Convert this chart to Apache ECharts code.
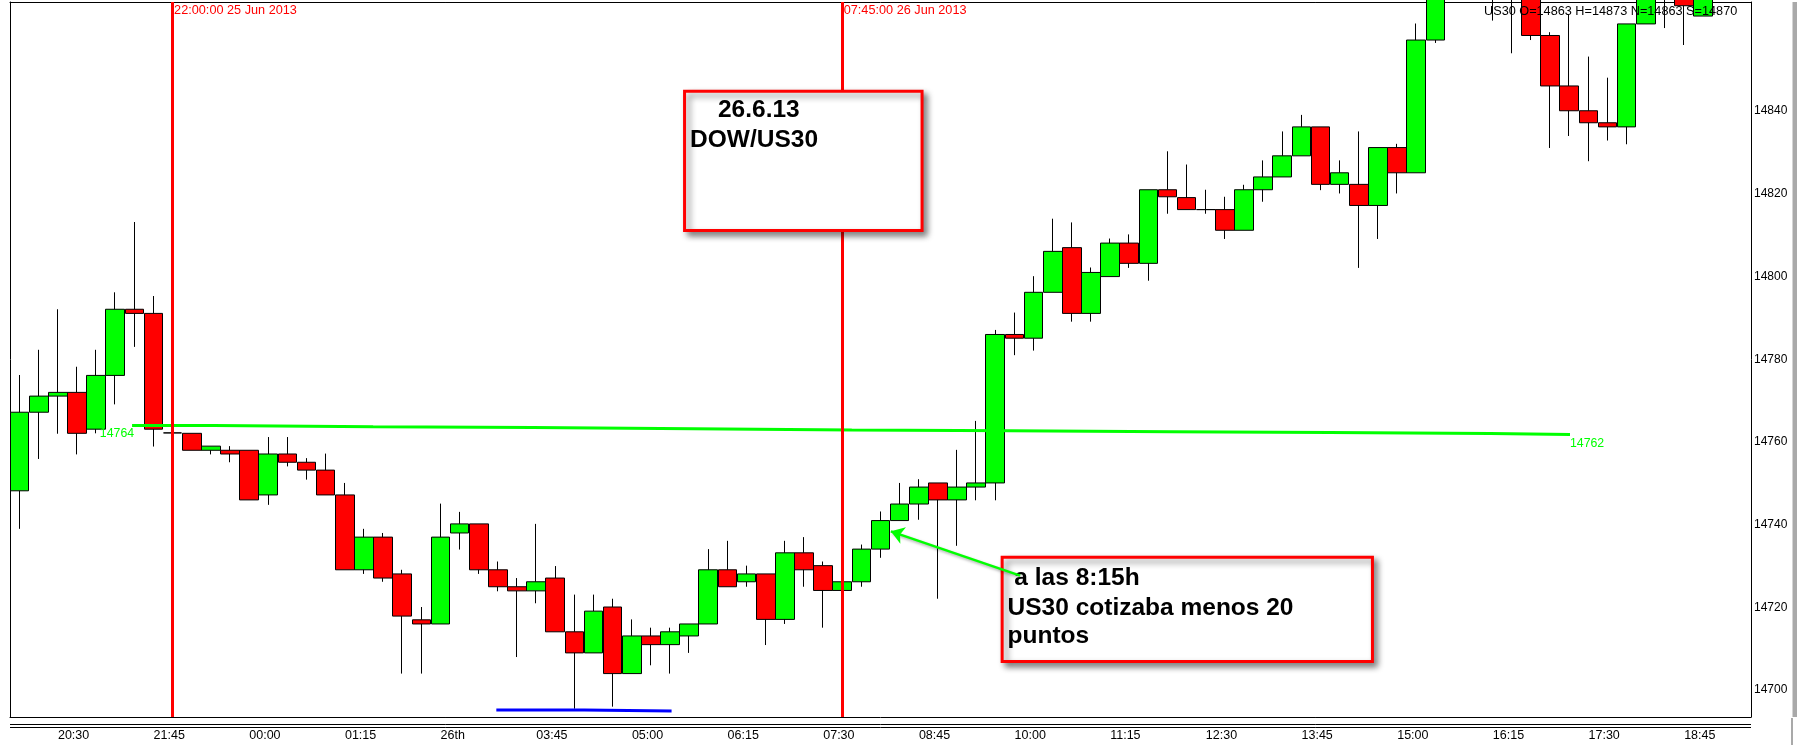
<!DOCTYPE html>
<html>
<head>
<meta charset="utf-8">
<script src="https://cdn.jsdelivr.net/npm/echarts@6/dist/echarts.min.js"></script>
<style>
html,body{margin:0;padding:0;background:#fff;}
#c{width:1797px;height:745px;}
</style>
</head>
<body>
<div id="c"></div>
<script>
// ---------------- DATA ----------------
const xTickLabels = ['20:30','21:45','00:00','01:15','26th','03:45','05:00','06:15','07:30','08:45','10:00','11:15','12:30','13:45','15:00','16:15','17:30','18:45'];
const firstTickSlot = 3;
const tickEvery = 5;
const slotCount = 91;
const yTickValues = [14700,14720,14740,14760,14780,14800,14820,14840];
const yMin = 14693.5;
const yMax = 14866.4;

// 15-minute candles (index 0..88)
const opens = [
 14748.2,14767.2,14771.1,14772.0,14763.1,14776.1,14792.1,14791.1,14762.2,14762.1,
 14758.0,14758.0,14758.0,14747.2,14757.1,14755.1,14753.2,14747.2,14729.1,14737.0,
 14728.1,14717.0,14716.0,14738.0,14740.2,14729.1,14725.0,14724.0,14727.1,14714.1,
 14709.0,14720.1,14704.0,14713.1,14711.0,14713.1,14716.0,14729.1,14726.2,14728.1,
 14717.1,14733.2,14730.1,14724.1,14726.2,14734.1,14741.0,14745.0,14750.1,14746.0,
 14749.1,14750.1,14786.0,14785.1,14796.2,14807.0,14791.1,14800.0,14808.1,14803.2,
 14821.0,14819.1,14816.2,14816.2,14811.2,14821.0,14824.1,14829.2,14836.2,14822.3,
 14822.3,14817.2,14831.2,14825.1,14857.2,14874.0,14880.0,14876.0,14872.0,14869.0,
 14858.3,14846.1,14840.1,14837.2,14836.2,14861.1,14868.0,14872.0,14863.0];
const closes = [
 14767.2,14771.1,14772.0,14762.1,14776.1,14792.1,14791.1,14763.1,14762.2,14758.0,
 14759.0,14757.1,14746.0,14757.1,14755.1,14753.2,14747.2,14729.1,14737.0,14727.1,
 14717.9,14716.0,14737.0,14740.2,14729.1,14725.0,14724.0,14726.2,14714.1,14709.0,
 14719.1,14704.0,14713.1,14711.0,14714.1,14716.0,14729.1,14725.0,14728.1,14717.1,
 14733.2,14729.1,14724.1,14726.2,14734.1,14741.0,14745.0,14749.1,14746.0,14749.1,
 14750.1,14786.0,14785.1,14796.2,14806.1,14791.1,14801.0,14808.1,14803.2,14821.0,
 14819.3,14816.2,14816.2,14811.2,14821.0,14824.1,14829.2,14836.2,14822.3,14825.1,
 14817.2,14831.2,14825.1,14857.2,14874.0,14880.0,14876.0,14872.0,14869.0,14858.3,
 14846.1,14840.1,14837.2,14836.2,14861.1,14868.0,14872.0,14865.5,14870.0];
const lows = [
 14739.0,14755.9,14762.0,14757.0,14762.1,14769.1,14783.0,14758.9,14761.8,14758.0,
 14757.0,14755.1,14746.0,14744.8,14754.1,14750.9,14747.2,14729.1,14728.1,14726.2,
 14704.0,14704.0,14716.0,14734.0,14728.1,14723.9,14708.0,14721.0,14714.1,14695.5,
 14709.0,14696.0,14704.0,14706.0,14704.0,14709.0,14716.0,14725.0,14725.0,14710.9,
 14716.0,14725.0,14715.1,14724.1,14725.0,14732.0,14741.0,14741.2,14722.1,14734.9,
 14745.9,14745.9,14781.0,14782.1,14796.2,14789.1,14789.1,14800.0,14802.1,14799.0,
 14815.2,14816.2,14815.2,14809.1,14811.2,14818.1,14824.1,14829.2,14820.9,14820.1,
 14802.1,14809.1,14820.1,14825.1,14856.5,14870.0,14871.0,14861.9,14854.0,14857.2,
 14831.1,14834.0,14827.9,14832.9,14832.0,14861.1,14860.1,14856.0,14863.0];
const highs = [
 14776.2,14782.3,14792.1,14778.2,14782.3,14796.2,14813.2,14795.3,14762.6,14762.1,
 14759.0,14759.0,14758.0,14761.2,14761.2,14756.1,14757.2,14750.1,14739.0,14738.0,
 14729.1,14720.1,14745.1,14743.1,14740.2,14731.1,14727.1,14740.2,14730.0,14723.1,
 14723.1,14722.1,14717.1,14715.1,14715.1,14716.0,14734.1,14736.1,14730.1,14728.1,
 14736.1,14737.0,14731.1,14726.2,14735.2,14743.2,14750.1,14751.0,14750.1,14758.1,
 14765.1,14787.1,14791.3,14800.1,14814.0,14813.1,14802.2,14809.2,14810.2,14821.0,
 14830.3,14827.1,14821.0,14819.3,14822.2,14828.1,14835.1,14839.1,14836.2,14828.1,
 14835.1,14831.2,14832.1,14861.2,14878.0,14884.0,14886.0,14880.0,14875.0,14871.0,
 14859.1,14863.5,14853.2,14848.1,14861.1,14870.0,14875.0,14874.0,14873.0];

// stepped average line (x in candle units, price)
const maSteps = [[5.88,14764.0],[10.14,14763.7],[18.48,14763.5],[26.82,14763.2],[35.20,14762.9],
 [43.50,14762.7],[51.80,14762.5],[60.18,14762.3],[68.46,14762.05],[76.86,14761.8],[81.04,14761.8]];
const maStartLabel = '14764';
const maEndLabel = '14762';
// blue support line at the lows
const lowLine = [[24.92,14695.2],[29.52,14694.95],[34.08,14694.95]];
// vertical session markers
const vLines = [{slot: 8, label: '22:00:00 25 Jun 2013'}, {slot: 43, label: '07:45:00 26 Jun 2013'}];
// arrow annotation (from, to) in candle units / price
const arrowFrom = [52.30, 14727.7];
const arrowTo = [45.54, 14738.4];
// text boxes anchored at (candle units, price)
const boxes = [
  {u: 34.68, price: 14845.2, lines: [{t: '26.6.13', dx: 34.9, dy: 20.7}, {t: 'DOW/US30', dx: 7, dy: 50.7}], w: 240.5, h: 142.4},
  {u: 51.28, price: 14732.5, lines: [{t: 'a las 8:15h', dx: 13.7, dy: 22.3}, {t: 'US30 cotizaba menos 20', dx: 6.9, dy: 52.3}, {t: 'puntos', dx: 6.9, dy: 80.7}], w: 373.3, h: 107.3}
];
const infoText = 'US30 O=14863 H=14873 N=14863 S=14870';

// ---------------- CHART ----------------
const FONT = "'Liberation Sans', Arial, sans-serif";
const chart = echarts.init(document.getElementById('c'), null, {renderer: 'canvas'});
const categories = Array.from({length: slotCount}, (_, i) => String(i));
const candleData = opens.map((o, i) => [o, closes[i], lows[i], highs[i]]);
function tickLabelAt(i) {
  if (i < firstTickSlot || (i - firstTickSlot) % tickEvery !== 0) return '';
  return xTickLabels[(i - firstTickSlot) / tickEvery] || '';
}

const option = {
  animation: false,
  backgroundColor: '#ffffff',
  textStyle: {fontFamily: FONT},
  grid: {left: 10, right: 46, top: 2, bottom: 28, containLabel: false},
  xAxis: [
    {
      type: 'category', data: categories, boundaryGap: true, position: 'bottom',
      axisLine: {show: true, onZero: false, lineStyle: {color: '#000', width: 1}},
      axisTick: {show: false}, splitLine: {show: false},
      axisLabel: {
        interval: (i) => tickLabelAt(i) !== '',
        formatter: (v, i) => '{a|' + tickLabelAt(i) + '}',
        margin: 12,
        rich: {a: {width: 38, align: 'left', color: '#000', fontSize: 12.5, fontFamily: FONT}}
      }
    },
    {
      type: 'value', min: -0.5, max: slotCount - 0.5, position: 'top',
      axisLine: {show: true, onZero: false, lineStyle: {color: '#000', width: 1}},
      axisTick: {show: false}, axisLabel: {show: false}, splitLine: {show: false}
    }
  ],
  yAxis: [
    {
      type: 'value', position: 'right', min: yMin, max: yMax, scale: true,
      axisLine: {show: true, onZero: false, lineStyle: {color: '#000', width: 1}},
      axisTick: {show: false}, splitLine: {show: false},
      axisLabel: {customValues: yTickValues, formatter: (v) => String(Math.round(v)), color: '#000', fontSize: 12, margin: 3, fontFamily: FONT}
    },
    {
      type: 'value', position: 'left', min: yMin, max: yMax, scale: true,
      axisLine: {show: true, onZero: false, lineStyle: {color: '#000', width: 1}},
      axisTick: {show: false}, axisLabel: {show: false}, splitLine: {show: false}
    }
  ],
  series: [
    {
      type: 'candlestick', xAxisIndex: 0, yAxisIndex: 0, data: candleData,
      barWidth: '100%', clip: true,
      itemStyle: {color: '#00ff00', color0: '#ff0000', borderColor: '#000', borderColor0: '#000', borderWidth: 1},
      emphasis: {disabled: true},
      markLine: {
        silent: true, symbol: ['none', 'none'], z: 5,
        label: {show: false},
        lineStyle: {color: '#ff0000', width: 3, type: 'solid'},
        emphasis: {disabled: true},
        data: vLines.map(v => ({xAxis: v.slot}))
      }
    },
    {
      type: 'line', xAxisIndex: 1, yAxisIndex: 0, data: maSteps, step: 'end',
      symbol: 'none', showSymbol: false, silent: true,
      lineStyle: {color: '#00ff00', width: 3}, z: 3
    },
    {
      type: 'line', xAxisIndex: 1, yAxisIndex: 0, data: lowLine, step: 'end',
      symbol: 'none', showSymbol: false, silent: true,
      lineStyle: {color: '#0000ff', width: 3}, z: 3,
      markLine: {
        silent: true, z: 100, symbol: ['none', 'arrow'], symbolSize: 13,
        label: {show: false}, emphasis: {disabled: true},
        lineStyle: {color: '#00ff00', width: 2.5, type: 'solid', shadowColor: 'rgba(0,0,0,0.35)', shadowBlur: 3, shadowOffsetX: 2, shadowOffsetY: 2},
        data: [[{coord: arrowFrom}, {coord: arrowTo}]]
      }
    }
  ]
};
chart.setOption(option);

function place() {
  const pxV = (u, v) => chart.convertToPixel({xAxisIndex: 1, yAxisIndex: 0}, [u, v]);
  const pxC = (i, v) => chart.convertToPixel({xAxisIndex: 0, yAxisIndex: 0}, [i, v]);
  const els = [];
  // vertical line labels
  vLines.forEach((v, k) => {
    const p = pxC(v.slot, yMax);
    els.push({type: 'text', z: 90, x: p[0] + 1.5, y: p[1] + 8.3,
      style: {text: v.label, fill: '#ff0000', font: '12.7px ' + FONT, textAlign: 'left', textVerticalAlign: 'middle'}});
  });
  // average line labels
  const pS = pxV(maSteps[0][0], maSteps[0][1]);
  const last = maSteps[maSteps.length - 1];
  const pE = pxV(last[0], last[1]);
  els.push({type: 'text', z: 90, x: pS[0] + 2, y: pS[1] + 8.6,
    style: {text: maStartLabel, fill: '#00ff00', font: '12.3px ' + FONT, textAlign: 'right', textVerticalAlign: 'middle'}});
  els.push({type: 'text', z: 90, x: pE[0], y: pE[1] + 8.6,
    style: {text: maEndLabel, fill: '#00ff00', font: '12.3px ' + FONT, textAlign: 'left', textVerticalAlign: 'middle'}});
  // annotation boxes
  boxes.forEach(b => {
    const p = pxV(b.u, b.price);
    els.push({type: 'rect', z: 50, shape: {x: p[0] + 1.5, y: p[1] + 1.5, width: b.w - 3, height: b.h - 3},
      style: {fill: '#ffffff', stroke: '#ff0000', lineWidth: 3,
        shadowColor: 'rgba(0,0,0,0.45)', shadowBlur: 6, shadowOffsetX: 4, shadowOffsetY: 4}});
    b.lines.forEach(l => {
      els.push({type: 'text', z: 51, x: p[0] + l.dx, y: p[1] + l.dy,
        style: {text: l.t, fill: '#000', font: 'bold 24.5px ' + FONT, textAlign: 'left', textVerticalAlign: 'middle'}});
    });
  });
  // info text top right
  els.push({type: 'text', z: 95, x: 1484, y: 11,
    style: {text: infoText, fill: '#000', font: '12.7px ' + FONT, textAlign: 'left', textVerticalAlign: 'middle'}});
  // double separator under the plot
  [724.5, 727.5].forEach(y => els.push({type: 'line', z: 10, shape: {x1: 10, y1: y, x2: 1751, y2: y}, style: {stroke: '#000', lineWidth: 1}}));
  // right-edge gray strip
  els.push({type: 'rect', z: 10, shape: {x: 1792.5, y: 2, width: 4.5, height: 715}, style: {fill: '#a9a9a9'}});
  els.push({type: 'rect', z: 10, shape: {x: 1791, y: 718, width: 2, height: 27}, style: {fill: '#a9a9a9'}});
  chart.setOption({graphic: {elements: els}});
}
place();
</script>
</body>
</html>
